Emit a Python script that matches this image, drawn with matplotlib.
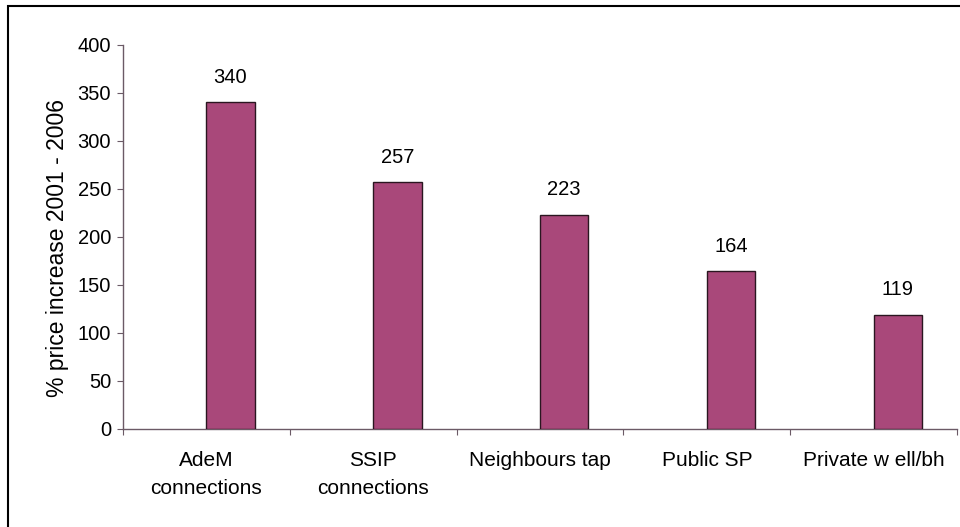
import matplotlib
matplotlib.use("Agg")
import matplotlib.pyplot as plt
from matplotlib.patches import Rectangle

plt.rcParams['font.family'] = ['Liberation Sans', 'DejaVu Sans']

categories = ["AdeM\nconnections", "SSIP\nconnections", "Neighbours tap",
              "Public SP", "Private w ell/bh"]
values = [340, 257, 223, 164, 119]
y_ticks = [0, 50, 100, 150, 200, 250, 300, 350, 400]

fig = plt.figure(figsize=(9.6, 5.27), dpi=100)
ax = fig.add_axes([0.128, 0.186, 0.869, 0.729])

# outer chart frame (clipped at right/bottom like the source)
fig.patches.append(Rectangle((0.0085, -0.05), 1.05, 1.039,
                             transform=fig.transFigure, fill=False,
                             edgecolor="black", linewidth=1.5))

# bars sit a bit right of the category centre, as in the source chart
shift = 0.145
x = [i + shift for i in range(len(categories))]
ax.bar(x, values, width=0.29, color="#A9487A", edgecolor="#2a1620",
       linewidth=1.0, zorder=3)

for xi, v in zip(x, values):
    ax.annotate(str(v), (xi, v), xytext=(0, 18), textcoords="offset points",
                ha="center", va="center", fontsize=14.5)

ax.set_xlim(-0.5, len(categories) - 0.5)
ax.set_ylim(0, 400)
ax.set_yticks(y_ticks)
ax.tick_params(axis="y", labelsize=14.5, length=4.5, color="#6b5a66", pad=4)

# category ticks sit at the boundaries between groups
ax.set_xticks([i - 0.5 for i in range(len(categories) + 1)])
ax.set_xticklabels([])
ax.set_xticks(list(range(len(categories))), minor=True)
ax.set_xticklabels(categories, minor=True, fontsize=15, linespacing=1.6)
ax.tick_params(axis="x", which="major", length=4, color="#6b5a66")
ax.tick_params(axis="x", which="minor", length=0, pad=16)

for side in ["top", "right"]:
    ax.spines[side].set_visible(False)
for side in ["left", "bottom"]:
    ax.spines[side].set_color("#6b5a66")
    ax.spines[side].set_linewidth(1.0)

ax.set_ylabel("% price increase 2001 - 2006", fontsize=16.5, labelpad=6,
              y=0.471)

fig.savefig("out.png", dpi=100)
